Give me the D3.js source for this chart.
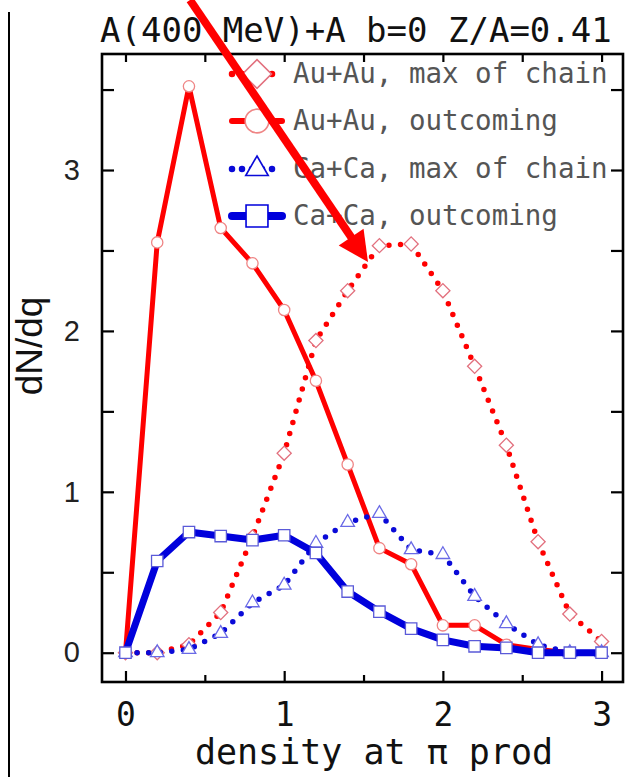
<!DOCTYPE html>
<html>
<head>
<meta charset="utf-8">
<script src="https://cdn.jsdelivr.net/npm/d3@7"></script>
<style>
  body { margin: 0; background: #fff; }
</style>
</head>
<body>
<div id="chart"></div>
<script>
// density at pion production (x values shared by all curves)
var density = [0, 0.2, 0.4, 0.6, 0.8, 1.0, 1.2, 1.4, 1.6, 1.8, 2.0, 2.2, 2.4, 2.6, 2.8, 3.0];

// dN/dq for each curve
var auMaxChain  = [0, 0.0, 0.05, 0.25, 0.72, 1.24, 1.94, 2.25, 2.53, 2.54, 2.25, 1.78, 1.29, 0.69, 0.24, 0.07];
var auOutcoming = [0, 2.55, 3.52, 2.64, 2.42, 2.13, 1.69, 1.17, 0.65, 0.55, 0.17, 0.17, 0.05, 0.02, 0.0, 0.0];
var caMaxChain  = [0, 0.0, 0.02, 0.12, 0.31, 0.42, 0.68, 0.81, 0.865, 0.64, 0.61, 0.35, 0.18, 0.05, 0.0, 0.0];
var caOutcoming = [0, 0.57, 0.75, 0.725, 0.70, 0.73, 0.62, 0.38, 0.255, 0.15, 0.08, 0.04, 0.03, 0.0, 0.0, 0.0];

var legendLabels = ["Au+Au, max of chain", "Au+Au, outcoming", "Ca+Ca, max of chain", "Ca+Ca, outcoming"];
var xTicks = [0, 1, 2, 3];
var xMinorTicks = [0.5, 1.5, 2.5];
var yTicks = [0, 0.5, 1, 1.5, 2, 2.5, 3, 3.5];
var titleText = "A(400 MeV)+A b=0 Z/A=0.41";
var xLabel = "density at \u03c0 prod";
var yLabel = "dN/dq";

var svgWidth = 626;
var svgHeight = 777;

var margin = { top: 54, right: 3, bottom: 95, left: 102 };
var chartWidth = svgWidth - margin.left - margin.right;
var chartHeight = svgHeight - margin.top - margin.bottom;

var mono = "'DejaVu Sans Mono', monospace";
var sans = "'Liberation Sans', Arial, sans-serif";

var svg = d3.select("#chart")
  .append("svg")
  .attr("width", svgWidth)
  .attr("height", svgHeight);

// thin border line at the far left of the figure
svg.append("line")
  .attr("x1", 9).attr("x2", 9)
  .attr("y1", 12).attr("y2", svgHeight)
  .attr("stroke", "#000")
  .attr("stroke-width", 2);

var chartGroup = svg.append("g")
  .attr("transform", `translate(${margin.left}, ${margin.top})`);

var xScale = d3.scaleLinear()
  .domain([-0.148, 3.135])
  .range([0, chartWidth]);

var yScale = d3.scaleLinear()
  .domain([-0.182, 3.721])
  .range([chartHeight, 0]);

// axes, ticks pointing inward
function styleAxis(g) {
  g.select(".domain").remove();
  g.selectAll(".tick line").attr("stroke", "#000").attr("stroke-width", 2.2);
}

chartGroup.append("g")
  .attr("transform", `translate(0, ${chartHeight})`)
  .call(d3.axisBottom(xScale).tickValues(xMinorTicks).tickSize(-7).tickFormat(""))
  .call(styleAxis);

chartGroup.append("g")
  .attr("transform", `translate(0, ${chartHeight})`)
  .call(d3.axisBottom(xScale).tickValues(xTicks).tickSize(-11).tickPadding(21).tickFormat(d3.format("d")))
  .call(styleAxis)
  .selectAll("text")
  .style("font-family", mono)
  .style("font-size", "33px")
  .attr("fill", "#111");

chartGroup.append("g")
  .call(d3.axisTop(xScale).tickValues(xTicks.concat(xMinorTicks)).tickSize(-8).tickFormat(""))
  .call(styleAxis);

chartGroup.append("g")
  .call(d3.axisLeft(yScale).tickValues(yTicks).tickSize(-12).tickPadding(22)
    .tickFormat(d => Number.isInteger(d) ? d : ""))
  .call(styleAxis)
  .selectAll("text")
  .style("font-family", sans)
  .style("font-size", "29px")
  .attr("fill", "#222");

chartGroup.append("g")
  .attr("transform", `translate(${chartWidth}, 0)`)
  .call(d3.axisRight(yScale).tickValues(yTicks).tickSize(-12).tickFormat(""))
  .call(styleAxis);

// frame
chartGroup.append("rect")
  .attr("width", chartWidth)
  .attr("height", chartHeight)
  .attr("fill", "none")
  .attr("stroke", "#000")
  .attr("stroke-width", 2.6);

// series
var series = [
  { label: legendLabels[0], values: auMaxChain, color: "#ff0000", width: 5.5, dash: "0 11.6",
    symbol: "diamond", mstroke: "#e2707e", size: 100, legendSize: 420 },
  { label: legendLabels[1], values: auOutcoming, color: "#ff0000", width: 5, dash: null,
    symbol: "circle", mstroke: "#ef8585", size: 100, legendSize: 440 },
  { label: legendLabels[2], values: caMaxChain, color: "#0a0ad8", width: 5.5, dash: "0 11.6",
    symbol: "triangle", mstroke: "#6a6ae6", size: 80, legendSize: 220 },
  { label: legendLabels[3], values: caOutcoming, color: "#0000dc", width: 7, dash: null,
    symbol: "square", mstroke: "#5a5ad8", size: 130, legendSize: 480 }
];

var symbolTypes = {
  diamond: d3.symbolSquare,
  circle: d3.symbolCircle,
  triangle: d3.symbolTriangle,
  square: d3.symbolSquare
};

var drawLine = d3.line()
  .x(d => xScale(d[0]))
  .y(d => yScale(d[1]));

function markerPath(s, size) {
  return d3.symbol().type(symbolTypes[s.symbol]).size(size)();
}

series.forEach(function(s) {
  var pts = density.map((q, i) => [q, s.values[i]]);

  chartGroup.append("path")
    .datum(pts)
    .attr("d", drawLine)
    .attr("fill", "none")
    .attr("stroke", s.color)
    .attr("stroke-width", s.width)
    .attr("stroke-linecap", "round")
    .attr("stroke-linejoin", "round")
    .attr("stroke-dasharray", s.dash);

  chartGroup.selectAll(null)
    .data(pts)
    .enter()
    .append("path")
    .attr("d", markerPath(s, s.size))
    .attr("transform", d => `translate(${xScale(d[0])}, ${yScale(d[1])})` + (s.symbol === "diamond" ? " rotate(45)" : ""))
    .attr("fill", "#fff")
    .attr("stroke", s.mstroke)
    .attr("stroke-width", 1.3);
});

// legend
var legend = svg.append("g");
var legendRows = [74, 121, 169, 216];

series.forEach(function(s, i) {
  var row = legend.append("g").attr("transform", `translate(0, ${legendRows[i]})`);
  row.append("line")
    .attr("x1", 232).attr("x2", 282)
    .attr("stroke", s.color)
    .attr("stroke-width", s.width + 1)
    .attr("stroke-linecap", "round")
    .attr("stroke-dasharray", s.dash ? "0 10" : null);
  row.append("path")
    .attr("d", markerPath(s, s.legendSize))
    .attr("transform", "translate(257, 0)" + (s.symbol === "diamond" ? " rotate(45)" : ""))
    .attr("fill", "#fff")
    .attr("stroke", s.symbol === "triangle" || s.symbol === "square" ? s.color : s.mstroke)
    .attr("stroke-width", 1.6);
  row.append("text")
    .attr("x", 293)
    .attr("y", 9)
    .style("font-family", mono)
    .style("font-size", "27.5px")
    .attr("fill", "#555")
    .text(s.label);
});

// title and axis labels
svg.append("text")
  .attr("x", 100)
  .attr("y", 42)
  .style("font-family", mono)
  .style("font-size", "34px")
  .attr("fill", "#111")
  .text(titleText);

svg.append("text")
  .attr("x", 374)
  .attr("y", 764)
  .attr("text-anchor", "middle")
  .style("font-family", mono)
  .style("font-size", "35px")
  .attr("fill", "#111")
  .text(xLabel);

svg.append("text")
  .attr("transform", "translate(42, 346) rotate(-90)")
  .attr("text-anchor", "middle")
  .style("font-family", sans)
  .style("font-size", "37px")
  .attr("fill", "#111")
  .text(yLabel);

// red arrow pointing at the Au+Au max-of-chain peak
var arrowStart = [190, 0];
var arrowTip = [368, 262];
var dx = arrowTip[0] - arrowStart[0], dy = arrowTip[1] - arrowStart[1];
var len = Math.sqrt(dx * dx + dy * dy);
var ux = dx / len, uy = dy / len;
var headLen = 30, headHalf = 15;
var baseX = arrowTip[0] - ux * headLen, baseY = arrowTip[1] - uy * headLen;

svg.append("line")
  .attr("x1", arrowStart[0]).attr("y1", arrowStart[1])
  .attr("x2", baseX + ux * 2).attr("y2", baseY + uy * 2)
  .attr("stroke", "#ff0000")
  .attr("stroke-width", 8);

svg.append("path")
  .attr("d", `M${arrowTip[0]},${arrowTip[1]} L${baseX - uy * headHalf},${baseY + ux * headHalf} L${baseX + uy * headHalf},${baseY - ux * headHalf} Z`)
  .attr("fill", "#ff0000");
</script>
</body>
</html>
